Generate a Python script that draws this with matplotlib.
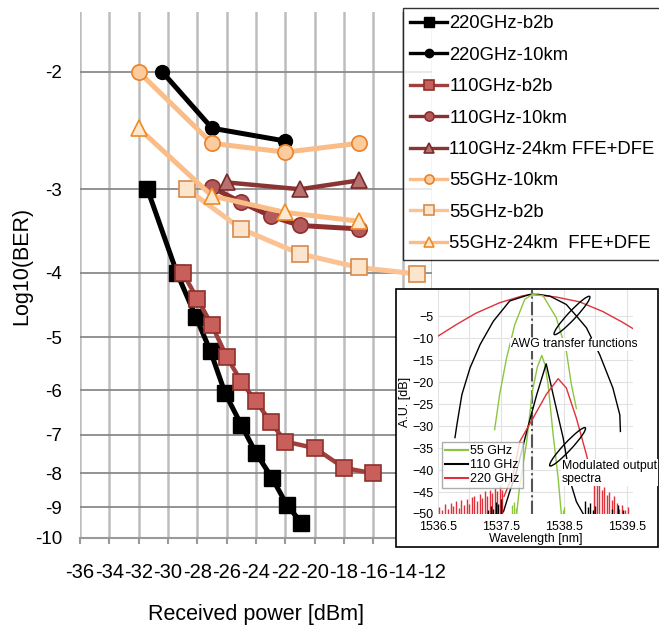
import numpy as np
import matplotlib
matplotlib.use('Agg')
import matplotlib.pyplot as plt
import matplotlib.transforms as mtransforms
from matplotlib.patches import Ellipse, Rectangle

plt.rcParams['font.family'] = ['Liberation Sans', 'DejaVu Sans']

# Main chart: received power [dBm] vs log10(BER)
p_220_b2b = [-31.4, -29.4, -28.1, -27.1, -26.1, -25.0, -24.0, -22.9, -21.9, -20.9]
ber_220_b2b = [-3.0, -4.0, -4.66, -5.25, -6.07, -6.77, -7.46, -8.13, -8.92, -9.49]

p_220_10km = [-30.4, -27.0, -22.0]
ber_220_10km = [-2.0, -2.43, -2.54]

p_110_b2b = [-29.0, -28.0, -27.0, -26.0, -25.0, -24.0, -23.0, -22.0, -20.0, -18.0, -16.0]
ber_110_b2b = [-4.0, -4.38, -4.80, -5.35, -5.83, -6.24, -6.70, -7.17, -7.33, -7.85, -8.0]

p_110_10km = [-27.0, -25.0, -23.0, -21.0, -17.0]
ber_110_10km = [-2.98, -3.14, -3.29, -3.40, -3.44]

p_110_24km = [-26.0, -21.0, -17.0]
ber_110_24km = [-2.93, -3.0, -2.91]

p_55_10km = [-32.0, -27.0, -22.0, -17.0]
ber_55_10km = [-2.0, -2.56, -2.64, -2.56]

p_55_b2b = [-28.7, -25.0, -21.0, -17.0, -13.0]
ber_55_b2b = [-3.0, -3.44, -3.75, -3.93, -4.02]

p_55_24km = [-32.0, -27.0, -22.0, -17.0]
ber_55_24km = [-2.43, -3.07, -3.25, -3.35]

x_ticks = list(range(-36, -11, 2))
y_ticks = [-2, -3, -4, -5, -6, -7, -8, -9, -10]

# Inset: AWG transfer functions and modulated spectra
awg_x_220 = [1536.50, 1536.80, 1537.10, 1537.48, 1537.85, 1538.00, 1538.38, 1538.75, 1539.12, 1539.44, 1539.60]
awg_y_220 = [-9.5, -6.8, -4.3, -1.9, -0.3, 0.0, -0.6, -1.7, -3.9, -6.4, -7.8]
awg_x_110 = [1536.77, 1536.80, 1536.88, 1537.01, 1537.17, 1537.38, 1537.64, 1537.96, 1538.10,
             1538.28, 1538.54, 1538.70, 1538.86, 1539.07, 1539.28, 1539.39, 1539.40]
awg_y_110 = [-32.6, -29.7, -22.8, -16.7, -11.4, -6.1, -1.5, 0.0, 0.0,
             -0.4, -2.3, -4.9, -7.6, -13.7, -21.3, -27.4, -31.2]
awg_x_55 = [1537.40, 1537.48, 1537.59, 1537.72, 1537.88, 1538.00, 1538.17, 1538.38, 1538.54, 1538.62, 1538.70]
awg_y_55 = [-30.8, -22.8, -14.5, -6.9, -1.1, 0.0, -0.3, -5.3, -12.9, -20.5, -26.0]

spec_x_55 = [1537.75, 1537.80, 1537.91, 1538.00, 1538.08, 1538.15, 1538.20, 1538.25, 1538.33, 1538.41, 1538.46]
spec_y_55 = [-50, -43.4, -33.5, -22.1, -16.5, -13.9, -16.0, -20.5, -31.9, -41.8, -50]
spec_x_110 = [1537.54, 1537.64, 1537.75, 1537.91, 1538.07, 1538.22, 1538.33, 1538.49, 1538.62, 1538.70, 1538.81]
spec_y_110 = [-49.5, -44.9, -40.3, -31.2, -22.8, -15.8, -22.8, -32.7, -43.4, -47.2, -50]
spec_x_220 = [1537.55, 1537.62, 1537.70, 1537.80, 1538.01, 1538.22, 1538.41, 1538.54, 1538.70, 1538.86, 1538.95]
spec_y_220 = [-46.0, -43.5, -40.7, -33.5, -28.2, -22.8, -19.2, -21.3, -28.2, -36.5, -42.0]

# noise floor spikes
red_noise_x = [1536.52, 1536.56, 1536.61, 1536.66, 1536.70, 1536.74, 1536.79, 1536.83, 1536.87, 1536.92,
               1536.96, 1537.00, 1537.04, 1537.08, 1537.12, 1537.16, 1537.20, 1537.24, 1537.28, 1537.32,
               1537.36, 1537.40, 1537.44, 1537.48, 1537.52,
               1538.98, 1539.02, 1539.06, 1539.10, 1539.14, 1539.18, 1539.22, 1539.26, 1539.30, 1539.34,
               1539.38, 1539.42, 1539.47, 1539.52]
red_noise_y = [-48.5, -49.2, -47.8, -48.9, -47.5, -48.2, -47.0, -48.6, -46.8, -47.9,
               -46.5, -47.7, -46.2, -45.8, -47.0, -45.5, -46.3, -44.8, -45.9, -44.5,
               -45.2, -44.0, -44.8, -43.5, -44.6,
               -41.5, -43.0, -42.2, -44.5, -43.8, -45.6, -44.9, -46.8, -46.0, -47.5,
               -48.8, -47.9, -49.0, -48.3]
black_noise_x = [1537.30, 1537.34, 1537.38, 1537.42, 1537.46, 1537.50,
                 1538.84, 1538.88, 1538.92, 1538.96, 1539.00, 1539.26, 1539.36, 1539.44]
black_noise_y = [-49.0, -48.2, -48.8, -47.2, -47.8, -46.5,
                 -47.0, -48.5, -47.6, -49.0, -48.2, -48.8, -48.0, -49.2]
green_noise_x = [1537.68, 1537.71, 1537.74, 1538.48, 1538.51]
green_noise_y = [-48.0, -47.2, -48.6, -49.0, -48.4]

fig = plt.figure(figsize=(6.59, 6.27), dpi=100)
ax = fig.add_axes([80/659, 89/627, 352/659, 526/627])

# BER style axis: position ~ log10(-log10(BER))
def fwd(y):
    return -np.log10(np.clip(-np.asarray(y, dtype=float), 1e-6, None))

def inv(z):
    return -10.0 ** (-np.asarray(z, dtype=float))

ax.set_yscale('function', functions=(fwd, inv))

ax.plot(p_220_b2b, ber_220_b2b, c='black', lw=3.6, marker='s', ms=11,
        mfc='black', mec='black', label='220GHz-b2b')
ax.plot(p_220_10km, ber_220_10km, c='black', lw=3.6, marker='o', ms=10,
        mfc='black', mec='black', label='220GHz-10km')
ax.plot(p_110_b2b, ber_110_b2b, c='#a0403c', lw=3.2, marker='s', ms=11,
        mfc='#c85f5a', mec='#8e302c', mew=1.2, label='110GHz-b2b')
ax.plot(p_110_10km, ber_110_10km, c='#8b2f2f', lw=3.6, marker='o', ms=11,
        mfc='#b45a5a', mec='#8b2f2f', mew=1.2, label='110GHz-10km')
ax.plot(p_110_24km, ber_110_24km, c='#8a3434', lw=3.2, marker='^', ms=11,
        mfc='#b87070', mec='#7a2a2a', mew=1.2, label='110GHz-24km FFE+DFE')
ax.plot(p_55_10km, ber_55_10km, c='#fbbd88', lw=3.6, marker='o', ms=11,
        mfc='#fdcb9c', mec='#e8822a', mew=1.2, label='55GHz-10km')
ax.plot(p_55_b2b, ber_55_b2b, c='#fbc294', lw=3.6, marker='s', ms=11,
        mfc='#fde4cd', mec='#d88a4a', mew=1.2, label='55GHz-b2b')
ax.plot(p_55_24km, ber_55_24km, c='#fbbd88', lw=3.6, marker='^', ms=12,
        mfc='#fde8d2', mec='#f08a20', mew=1.2, label='55GHz-24km  FFE+DFE')

ax.set_xlim(-36, -12)
ax.set_ylim(-10, -1.627)
ax.set_xticks(x_ticks)
ax.set_xticklabels([str(v) for v in x_ticks])
ax.set_yticks(y_ticks)
ax.set_yticklabels([str(v) for v in y_ticks])
ax.yaxis.set_minor_locator(matplotlib.ticker.NullLocator())
ax.grid(axis='x', color='#bdbdbd', lw=1.8)
ax.grid(axis='y', color='#8a8a8a', lw=1.3)
ax.set_axisbelow(True)
for s in ['top', 'right', 'left']:
    ax.spines[s].set_visible(False)
ax.spines['bottom'].set_color('#9a9a9a')
ax.spines['bottom'].set_linewidth(1.5)
ax.tick_params(axis='x', labelsize=14.5, length=4, width=1.5, color='#9a9a9a', pad=14)
ax.tick_params(axis='y', labelsize=13.5, length=0, pad=13)
ax.set_xlabel('Received power [dBm]', fontsize=15.5, labelpad=16)
ax.set_ylabel('Log10(BER)', fontsize=15.5)
ax.yaxis.set_label_coords(-0.136, 0.517)

leg = ax.legend(loc='upper left', bbox_to_anchor=(403/659, 1 - 8/627),
                bbox_transform=fig.transFigure, fontsize=13.3, frameon=True,
                fancybox=False, edgecolor='black', markerscale=0.6,
                handlelength=2.0, handletextpad=0.1, labelspacing=0.78,
                borderpad=0.4, borderaxespad=0)
leg.get_frame().set_linewidth(1.0)
for line in leg.get_lines():
    line.set_linewidth(2.4)

# Inset frame and axes
frame = Rectangle((396/659, 80/627), 262/659, 258/627, transform=fig.transFigure,
                  fc='white', ec='black', lw=1.2, zorder=5)
fig.add_artist(frame)

ax2 = fig.add_axes([438/659, 113/627, 195/659, 224/627], zorder=6)
ax2.plot(awg_x_220, awg_y_220, c='#e0303a', lw=1.0)
ax2.plot(awg_x_110, awg_y_110, c='black', lw=1.0)
ax2.plot(awg_x_55, awg_y_55, c='#8cc63f', lw=1.0)
ax2.plot(spec_x_55, spec_y_55, c='#8cc63f', lw=1.0, label='55 GHz')
ax2.plot(spec_x_110, spec_y_110, c='black', lw=1.0, label='110 GHz')
ax2.plot(spec_x_220, spec_y_220, c='#e0303a', lw=1.0, label='220 GHz')
ax2.vlines(red_noise_x, -50, red_noise_y, colors='#e0303a', lw=1.0)
ax2.vlines(black_noise_x, -50, black_noise_y, colors='black', lw=1.0)
ax2.vlines(green_noise_x, -50, green_noise_y, colors='#8cc63f', lw=1.0)
ax2.axvline(1538.0, color='#555555', lw=1.5, ls='-.', zorder=1)

ax2.set_xlim(1536.5, 1539.6)
ax2.set_ylim(-50, 1.0)
ax2.set_xticks([1536.5, 1537.5, 1538.5, 1539.5])
ax2.set_xticks([1537.0, 1538.0, 1539.0], minor=True)
ax2.set_yticks(list(range(-50, 0, 5)))
ax2.grid(which='both', color='#e2e2e2', lw=0.8)
ax2.set_axisbelow(True)
for s in ax2.spines.values():
    s.set_visible(False)
ax2.tick_params(which='both', length=0, labelsize=9, pad=3)
ax2.tick_params(axis='x', pad=5)
ax2.set_xlabel('Wavelength [nm]', fontsize=9, labelpad=0)
ax2.set_ylabel('A.U. [dB]', fontsize=9, labelpad=1)

ax2.text(1538.67, -11.4, 'AWG transfer functions', fontsize=8.8, ha='center', va='center',
         bbox=dict(fc='white', ec='none', pad=0.5), zorder=4)
ax2.text(1538.47, -40.5, 'Modulated output\nspectra', fontsize=8.8, ha='left', va='center',
         linespacing=1.15, bbox=dict(fc='white', ec='none', pad=0.5), zorder=4)

for (ex, ey) in [(1538.63, -4.8), (1538.56, -34.7)]:
    tr = fig.dpi_scale_trans + mtransforms.ScaledTranslation(ex, ey, ax2.transData)
    ax2.add_patch(Ellipse((0, 0), width=0.52, height=0.08, angle=47, transform=tr,
                          fc='none', ec='black', lw=1.0, zorder=5))

leg2 = ax2.legend(loc='lower left', bbox_to_anchor=(0.02, 0.115), fontsize=9,
                  frameon=True, fancybox=False, edgecolor='#999999',
                  handlelength=1.8, handletextpad=0.2, labelspacing=0.15,
                  borderpad=0.25, borderaxespad=0)
for line in leg2.get_lines():
    line.set_linewidth(1.5)

fig.savefig('out.png', dpi=100)
